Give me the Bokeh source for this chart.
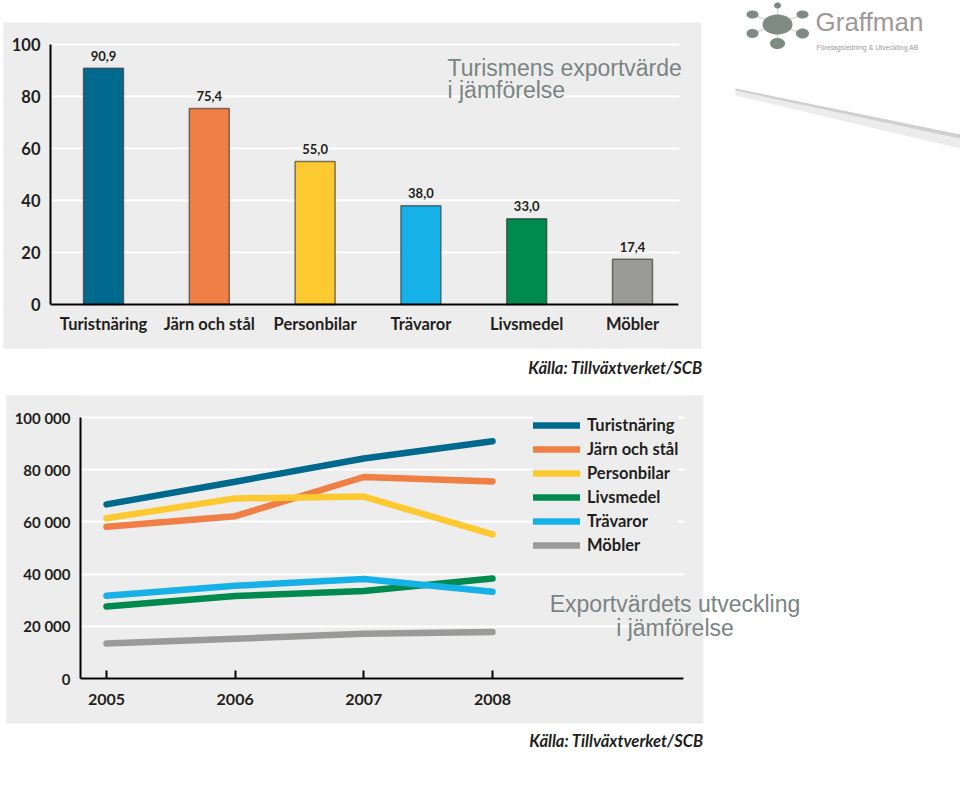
import numpy as np
from bokeh.plotting import figure
from bokeh.models import (Range1d, FixedTicker, BoxAnnotation, PolyAnnotation, Label, ColumnDataSource)
from bokeh.layouts import column
from bokeh.embed import file_html
from bokeh.resources import INLINE
from bokeh.core.properties import value

# ---------------- data ----------------
categories = ["Turistnäring", "Järn och stål", "Personbilar", "Trävaror", "Livsmedel", "Möbler"]
export_value = [90.9, 75.4, 55.0, 38.0, 33.0, 17.4]
bar_colors = ["#006a8e", "#ef7f45", "#fdc930", "#16b1e6", "#008a4e", "#9a9a98"]
bar_ticks = [0, 20, 40, 60, 80, 100]

years = [2005, 2006, 2007, 2008]
turistnaring = [66700, 75400, 84300, 90900]
jarn_och_stal = [58100, 62200, 77200, 75500]
personbilar = [61400, 69000, 69700, 55200]
livsmedel = [27600, 31600, 33500, 38300]
travaror = [31700, 35500, 38100, 33200]
mobler = [13400, 15200, 17100, 17800]
line_series = ["Turistnäring", "Järn och stål", "Personbilar", "Livsmedel", "Trävaror", "Möbler"]
line_colors = ["#006a8e", "#ef7f45", "#fdc930", "#008a4e", "#16b1e6", "#9a9a98"]
line_ticks = [0, 20000, 40000, 60000, 80000, 100000]

PANEL = "#eeeded"
TEXT = "#231f20"
FONT = "Lato"
TITLE_FONT = "Liberation Sans"
TITLE_COLOR = "#7a8483"
W = 960
TOP_H = 380
BOT_H = 405


def screen_box(fig_h, x0, x1, y0, y1, color, level):
    """Box given in page pixels (y downwards) -> frame-relative screen units."""
    return BoxAnnotation(left=x0, right=x1, top=fig_h - y0, bottom=fig_h - y1,
                         left_units="screen", right_units="screen",
                         top_units="screen", bottom_units="screen",
                         fill_color=color, fill_alpha=1, line_alpha=0, level=level)


def screen_label(fig_h, x, y, text, **kw):
    return Label(x=x, y=fig_h - y, x_units="screen", y_units="screen", text=text, **kw)


# ---------------- top: bar chart ----------------
# plot area layout: bar i centred at 103 + 105.8*i px, value v at 304 - 2.6*v px
bx0, bdx = 103.0, 105.8
by0, bdy = 304.0, 2.6
top = figure(width=W, height=TOP_H, title=None,
             x_range=Range1d(-bx0 / bdx, (W - bx0) / bdx),
             y_range=Range1d((by0 - TOP_H) / bdy, by0 / bdy),
             output_backend="svg", toolbar_location=None, min_border=0,
             min_border_left=0, min_border_right=0, min_border_top=0, min_border_bottom=0,
             background_fill_color="white", border_fill_color="white", outline_line_color=None)

top.add_layout(screen_box(TOP_H, 3, 701, 22, 348, PANEL, "image"))

idx = list(range(len(categories)))
bar_src = ColumnDataSource(dict(x=idx, val=export_value, color=bar_colors,
                                lbl=[f"{v:.1f}".replace(".", ",") for v in export_value]))
top.vbar(x="x", top="val", width=40 / bdx, source=bar_src, fill_color="color",
         line_color="#2a2a2a", line_alpha=0.6, line_width=1.5)
top.text(x="x", y="val", text="lbl", source=bar_src, text_align="center",
         text_baseline="middle", y_offset=-12.5, text_font=value(FONT),
         text_font_style="bold", text_font_size="13px", text_color=TEXT)

top.ygrid.ticker = FixedTicker(ticks=bar_ticks)
top.ygrid.grid_line_color = "white"
top.ygrid.grid_line_width = 2
top.xgrid.grid_line_color = None
# hide grid lines outside the plotting area
top.add_layout(screen_box(TOP_H, 3, 49, 22, 348, PANEL, "underlay"))
top.add_layout(screen_box(TOP_H, 679, 701, 22, 348, PANEL, "underlay"))
top.add_layout(screen_box(TOP_H, 701, W, 0, TOP_H, "white", "underlay"))

x_left = (50 - bx0) / bdx
x_right = (678 - bx0) / bdx
top.xaxis.ticker = FixedTicker(ticks=idx)
top.xaxis.major_label_overrides = {i: c for i, c in zip(idx, categories)}
top.xaxis.fixed_location = 0
top.xaxis.bounds = (x_left, x_right)
top.yaxis.ticker = FixedTicker(ticks=bar_ticks)
top.yaxis.fixed_location = x_left
top.yaxis.bounds = (0, 100)
for ax in (top.xaxis[0], top.yaxis[0]):
    ax.axis_line_color = "black"
    ax.axis_line_width = 2
    ax.major_tick_line_color = None
    ax.minor_tick_line_color = None
    ax.major_tick_in = 0
    ax.major_tick_out = 0
    ax.major_label_text_font = FONT
    ax.major_label_text_font_style = "bold"
    ax.major_label_text_font_size = "16.5px"
    ax.major_label_text_color = TEXT
top.yaxis.major_label_standoff = 10
top.xaxis.major_label_standoff = 9

title_kw = dict(text_font=TITLE_FONT, text_font_size="23px", text_color=TITLE_COLOR,
                text_baseline="middle")
top.add_layout(screen_label(TOP_H, 447, 67.5, "Turismens exportvärde", **title_kw))
top.add_layout(screen_label(TOP_H, 447, 89.5, "i jämförelse", **title_kw))
src_kw = dict(text_font=FONT, text_font_style="bold italic", text_font_size="16.5px",
              text_color=TEXT, text_align="right", text_baseline="middle")
top.add_layout(screen_label(TOP_H, 702, 367, "Källa: Tillväxtverket/SCB", **src_kw))

# logo (decoration)
LOGO = "#7e8b84"
center = (777, 24)
sats = [(777, 5, 3.5, 3), (752, 14, 6, 4), (802, 14, 6, 4), (752, 33, 6, 4.5),
        (802, 33, 6.5, 5), (777, 43, 7.5, 5.5)]
for sx, sy, _, _ in sats:
    top.add_layout(PolyAnnotation(xs=[center[0], sx], ys=[TOP_H - center[1], TOP_H - sy],
                                  xs_units="screen", ys_units="screen", fill_alpha=0,
                                  line_color=LOGO, line_width=1.5))
t = np.linspace(0, 2 * np.pi, 40)
for cx, cy, rx, ry in [(777, 24, 15, 10)] + sats:
    top.add_layout(PolyAnnotation(xs=list(cx + rx * np.cos(t)), ys=list(TOP_H - (cy + ry * np.sin(t))),
                                  xs_units="screen", ys_units="screen", fill_color=LOGO,
                                  fill_alpha=1, line_alpha=0))
top.add_layout(screen_label(TOP_H, 815, 21, "Graffman", text_font=TITLE_FONT,
                            text_font_size="26px", text_color="#a09898", text_baseline="middle"))
top.add_layout(screen_label(TOP_H, 816, 46.5, "Företagsledning & Utveckling AB", text_font=TITLE_FONT,
                            text_font_size="7px", text_color="#a09898", text_baseline="middle"))
# swoosh
top.add_layout(PolyAnnotation(xs=[735, 960, 960, 735], ys=[TOP_H - 88, TOP_H - 134, TOP_H - 148, TOP_H - 95],
                              xs_units="screen", ys_units="screen", fill_color="#ececec",
                              fill_alpha=1, line_alpha=0))
top.add_layout(PolyAnnotation(xs=[735, 960, 960, 735], ys=[TOP_H - 88, TOP_H - 134, TOP_H - 138, TOP_H - 90],
                              xs_units="screen", ys_units="screen", fill_color="#d0d0d0",
                              fill_alpha=1, line_alpha=0))

# ---------------- bottom: line chart ----------------
# plot area layout (page px): year 2005 at x=106, 128.667 px per year; value 0 at y=678, 0.00261 px per unit
BOT_Y0 = TOP_H
lx0, ldx = 106.0, 128.667
ly0, ldy = 678.0 - BOT_Y0, 0.00261
bot = figure(width=W, height=BOT_H, title=None,
             x_range=Range1d(2005 - lx0 / ldx, 2005 + (W - lx0) / ldx),
             y_range=Range1d((ly0 - BOT_H) / ldy, ly0 / ldy),
             output_backend="svg", toolbar_location=None, min_border=0,
             min_border_left=0, min_border_right=0, min_border_top=0, min_border_bottom=0,
             background_fill_color="white", border_fill_color="white", outline_line_color=None)


def by(y):
    return y - BOT_Y0


bot.add_layout(screen_box(BOT_H, 6, 703, by(395), by(723), PANEL, "image"))

series_values = [turistnaring, jarn_och_stal, personbilar, livsmedel, travaror, mobler]
for name, vals, col in zip(line_series, series_values, line_colors):
    bot.line(years, vals, line_width=6.5, line_color=col, line_cap="round", line_join="round",
             legend_label=name)

bot.ygrid.ticker = FixedTicker(ticks=line_ticks)
bot.ygrid.grid_line_color = "white"
bot.ygrid.grid_line_width = 2
bot.xgrid.grid_line_color = None
bot.add_layout(screen_box(BOT_H, 6, 79, by(395), by(723), PANEL, "underlay"))
bot.add_layout(screen_box(BOT_H, 684, 703, by(395), by(723), PANEL, "underlay"))
bot.add_layout(screen_box(BOT_H, 703, W, 0, BOT_H, "white", "underlay"))

lx_left = 2005 + (80 - lx0) / ldx
lx_right = 2005 + (683 - lx0) / ldx
bot.yaxis.ticker = FixedTicker(ticks=line_ticks)
bot.yaxis.major_label_overrides = {t: f"{t:,}".replace(",", " ") for t in line_ticks}
bot.yaxis.fixed_location = lx_left
bot.yaxis.bounds = (0, 100000)
bot.xaxis.ticker = FixedTicker(ticks=years)
bot.xaxis.fixed_location = 0
bot.xaxis.bounds = (lx_left, lx_right)
for ax in (bot.xaxis[0], bot.yaxis[0]):
    ax.axis_line_color = "black"
    ax.axis_line_width = 2
    ax.minor_tick_line_color = None
    ax.major_label_text_font = FONT
    ax.major_label_text_font_style = "bold"
    ax.major_label_text_color = TEXT
bot.yaxis.major_tick_line_color = None
bot.yaxis.major_tick_in = 0
bot.yaxis.major_tick_out = 0
bot.yaxis.major_label_text_font_size = "15px"
bot.yaxis.major_label_standoff = 10
bot.xaxis.major_tick_line_color = "black"
bot.xaxis.major_tick_line_width = 2
bot.xaxis.major_tick_in = 8
bot.xaxis.major_tick_out = 0
bot.xaxis.major_label_text_font_size = "16px"
bot.xaxis.major_label_standoff = 15

lg = bot.legend[0]
lg.location = (533, BOT_H - by(555))
lg.margin = 0
lg.padding = 14
lg.spacing = 4
lg.glyph_width = 47
lg.glyph_height = 20
lg.label_height = 20
lg.label_standoff = 7
lg.border_line_color = None
lg.background_fill_color = PANEL
lg.background_fill_alpha = 1
lg.label_text_font = FONT
lg.label_text_font_style = "bold"
lg.label_text_font_size = "16.5px"
lg.label_text_color = TEXT

title_c = dict(title_kw, text_align="center")
bot.add_layout(screen_label(BOT_H, 674.5, by(603.5), "Exportvärdets utveckling", **title_c))
bot.add_layout(screen_label(BOT_H, 674.5, by(627), "i jämförelse", **title_c))
bot.add_layout(screen_label(BOT_H, 703, by(740), "Källa: Tillväxtverket/SCB", **src_kw))

page = column(top, bot)
open("out.html", "w").write(file_html(page, INLINE))
